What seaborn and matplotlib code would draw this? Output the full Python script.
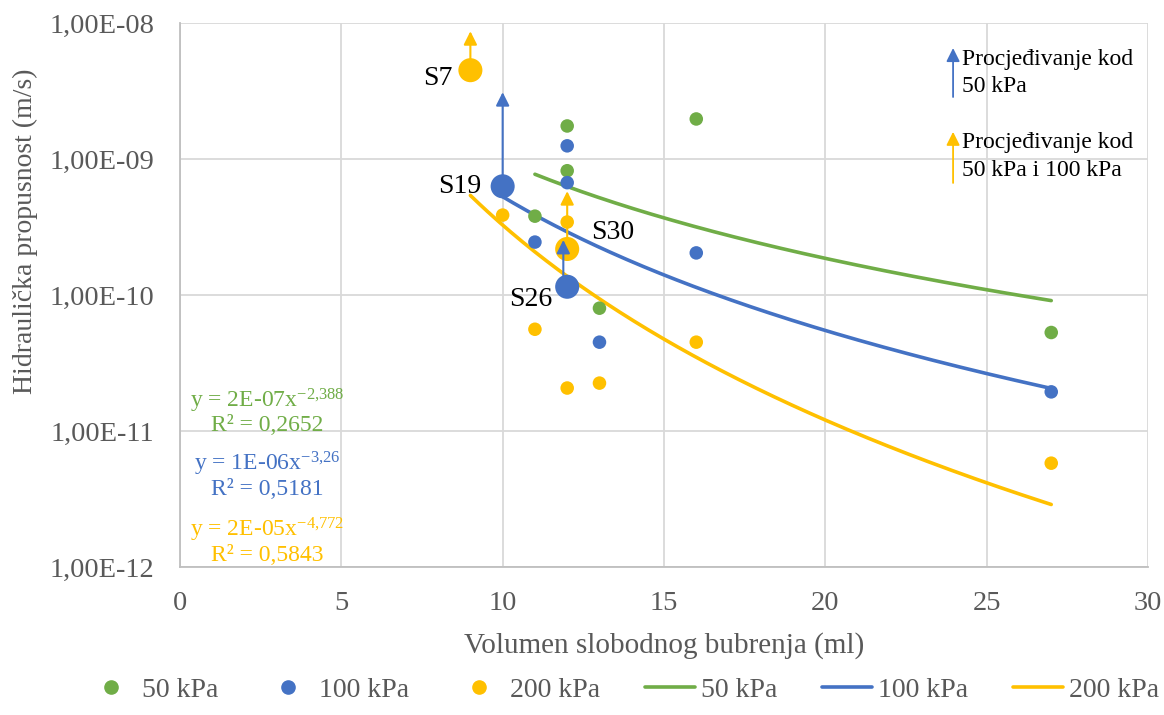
import numpy as np
import pandas as pd
import matplotlib
matplotlib.use("Agg")
import matplotlib.pyplot as plt
import seaborn as sns
from matplotlib.ticker import LogLocator, FixedLocator, FuncFormatter, NullFormatter
from matplotlib.lines import Line2D

# ---------------- data ----------------
x_50 = [11, 12, 12, 13, 16, 27]
k_50 = [3.8e-10, 1.75e-9, 8.2e-10, 8.0e-11, 1.97e-9, 5.3e-11]

x_100 = [10, 11, 12, 12, 12, 13, 16, 27]
k_100 = [6.3e-10, 2.45e-10, 1.25e-9, 6.7e-10, 1.15e-10, 4.5e-11, 2.04e-10, 1.94e-11]

x_200 = [9, 10, 11, 12, 12, 12, 13, 16, 27]
k_200 = [4.5e-9, 3.87e-10, 5.6e-11, 3.44e-10, 2.18e-10, 2.07e-11, 2.25e-11, 4.5e-11, 5.8e-12]

# highlighted samples
hl_names = ["S7", "S19", "S26", "S30"]
hl_x = [9, 10, 12, 12]
hl_k = [4.5e-9, 6.3e-10, 1.15e-10, 2.18e-10]
hl_series = ["200 kPa", "100 kPa", "100 kPa", "200 kPa"]

# seepage arrows (x, start k, end k, series)
arr_x = [9, 10, 11.88, 12]
arr_k0 = [5.5e-9, 6.3e-10, 1.38e-10, 2.55e-10]
arr_k1 = [8.7e-9, 3.1e-9, 2.54e-10, 5.8e-10]
arr_series = ["200 kPa", "100 kPa", "100 kPa", "200 kPa"]

eq_text = [(r"y = 2E-07x$^{-2{,}388}$", "R² = 0,2652"),
           (r"y = 1E-06x$^{-3{,}26}$", "R² = 0,5181"),
           (r"y = 2E-05x$^{-4{,}772}$", "R² = 0,5843")]

series = ["50 kPa", "100 kPa", "200 kPa"]
colors = {"50 kPa": "#70AD47", "100 kPa": "#4472C4", "200 kPa": "#FFC000"}

ytick_vals = [1e-12, 1e-11, 1e-10, 1e-9, 1e-8]
ytick_labels = ["1,00E-12", "1,00E-11", "1,00E-10", "1,00E-09", "1,00E-08"]

# ---------------- frames ----------------
pts = pd.DataFrame({
    "x": x_50 + x_100 + x_200,
    "k": k_50 + k_100 + k_200,
    "serija": ["50 kPa"] * len(x_50) + ["100 kPa"] * len(x_100) + ["200 kPa"] * len(x_200),
})

# power-law trendlines fitted in log-log space
rows = []
for s, xs, ks in [("50 kPa", x_50, k_50), ("100 kPa", x_100, k_100), ("200 kPa", x_200, k_200)]:
    b, a = np.polyfit(np.log(xs), np.log(ks), 1)
    xx = np.linspace(min(xs), max(xs), 200)
    for xv in xx:
        rows.append({"x": xv, "k": np.exp(a) * xv ** b, "serija": s})
trend = pd.DataFrame(rows)

# ---------------- plot ----------------
sns.set_style("white")
plt.rcParams["font.family"] = ["Liberation Serif", "DejaVu Serif"]
plt.rcParams["mathtext.fontset"] = "custom"
plt.rcParams["mathtext.rm"] = "Liberation Serif"
plt.rcParams["mathtext.it"] = "Liberation Serif"
plt.rcParams["mathtext.default"] = "regular"

fig = plt.figure(figsize=(11.64, 7.15), dpi=100)
ax = fig.add_axes([0.1546, 0.207, 0.8317, 0.7608])

ax.set_yscale("log")
ax.set_xlim(0, 30)
ax.set_ylim(1e-12, 1e-8)

ax.grid(True, which="major", color="#d9d9d9", linewidth=1.3)
ax.set_axisbelow(True)

sns.lineplot(data=trend, x="x", y="k", hue="serija", palette=colors,
             hue_order=series, linewidth=2.6, ax=ax, legend=False, zorder=2)
sns.scatterplot(data=pts, x="x", y="k", hue="serija", palette=colors,
                hue_order=series, s=95, linewidth=0, ax=ax, legend=False, zorder=3)

# highlighted bigger markers
hl = pd.DataFrame({"x": hl_x, "k": hl_k, "serija": hl_series})
sns.scatterplot(data=hl, x="x", y="k", hue="serija", palette=colors,
                hue_order=series, s=300, linewidth=0, ax=ax, legend=False, zorder=4)

# arrows
for xv, k0, k1, s in zip(arr_x, arr_k0, arr_k1, arr_series):
    ax.annotate("", xy=(xv, k1), xytext=(xv, k0),
                arrowprops=dict(arrowstyle="-|>,head_length=0.8,head_width=0.4",
                                color=colors[s], lw=1.5, shrinkA=0, shrinkB=0),
                zorder=5)

# sample labels
lab_pos = {"S7": (8.44, 3.94e-9, "right"), "S19": (9.35, 6.3e-10, "right"),
           "S26": (11.54, 9.2e-11, "right"), "S30": (12.74, 2.86e-10, "left")}
for n in hl_names:
    xx_, yy, ha = lab_pos[n]
    ax.text(xx_, yy, n, fontsize=20, ha=ha, va="center", color="black", zorder=6)

# equations
for (l1, l2), s, (y1, y2) in zip(eq_text, series,
                                   [(0.305, 0.26), (0.19, 0.143), (0.068, 0.022)]):
    ax.text(0.09, y1, l1, transform=ax.transAxes, fontsize=17,
            color=colors[s], ha="center", va="center")
    ax.text(0.09, y2, l2, transform=ax.transAxes, fontsize=17,
            color=colors[s], ha="center", va="center")

# arrow legend in top right
for s, yb, yt, yc, txt in [("100 kPa", 0.864, 0.954, 0.908, "Procjeđivanje kod\n50 kPa"),
                           ("200 kPa", 0.706, 0.80, 0.755, "Procjeđivanje kod\n50 kPa i 100 kPa")]:
    ax.annotate("", xy=(0.7986, yt), xytext=(0.7986, yb), xycoords="axes fraction",
                arrowprops=dict(arrowstyle="-|>,head_length=0.8,head_width=0.4",
                                color=colors[s], lw=1.3, shrinkA=0, shrinkB=0))
    ax.text(0.808, yc, txt, transform=ax.transAxes, fontsize=17,
            ha="left", va="center", color="black", linespacing=1.42)

# axes styling
ax.yaxis.set_major_locator(FixedLocator(ytick_vals))
ax.yaxis.set_major_formatter(FuncFormatter(lambda v, p: ytick_labels[ytick_vals.index(v)]
                                           if v in ytick_vals else ""))
ax.yaxis.set_minor_locator(LogLocator(base=10, subs=np.arange(2, 10), numticks=20))
ax.yaxis.set_minor_formatter(NullFormatter())
ax.tick_params(axis="y", which="major", length=0, labelsize=20.5, labelcolor="#595959", pad=18.5)
ax.tick_params(axis="y", which="minor", direction="in", length=5, color="#bfbfbf", width=1)
ax.set_xticks(np.arange(0, 31, 5))
ax.tick_params(axis="x", which="major", length=0, labelsize=20.5, labelcolor="#595959", pad=17)

for sp in ["top", "right"]:
    ax.spines[sp].set_visible(False)
for sp in ["left", "bottom"]:
    ax.spines[sp].set_color("#bfbfbf")
    ax.spines[sp].set_linewidth(1.3)

ax.set_xlabel("Volumen slobodnog bubrenja (ml)", fontsize=21, color="#595959", labelpad=12)
ax.set_ylabel("Hidraulička propusnost (m/s)", fontsize=20, color="#595959", va="center")
ax.yaxis.set_label_coords(-0.160, 0.6176)

# bottom legend
handles = []
for s in series:
    handles.append(Line2D([], [], marker="o", linestyle="none", color=colors[s],
                          markersize=9.5, label=s))
for s in series:
    handles.append(Line2D([], [], color=colors[s], linewidth=2.6, label=s))
fig.legend(handles=handles, loc="center", bbox_to_anchor=(0.535, 0.035), ncol=6,
           frameon=False, fontsize=20, labelcolor="#595959", handlelength=1.8,
           columnspacing=1.61, handletextpad=0.22)

fig.savefig("out.png", dpi=100)
